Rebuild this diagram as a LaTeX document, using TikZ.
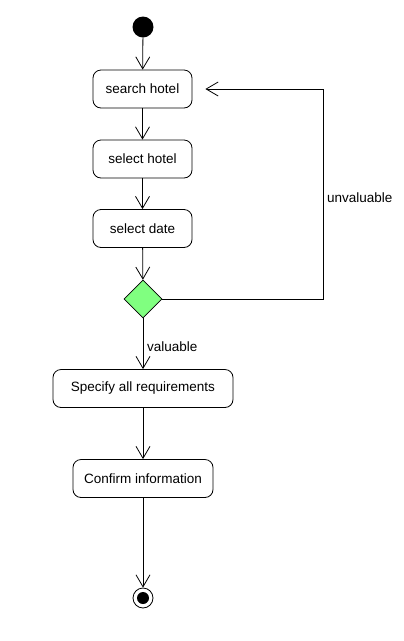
\documentclass[tikz,border=0pt]{standalone}
\usepackage{fontspec}
\setmainfont{Liberation Sans}
\usetikzlibrary{arrows.meta,shapes.geometric}
\begin{document}
\begin{tikzpicture}[x=1pt,y=-1pt,
  act/.style={draw,rounded corners=8pt,line width=0.8pt,minimum height=38pt,inner sep=0pt,font=\fontsize{13.5}{15}\selectfont},
  flow/.style={draw,line width=0.8pt,-{Straight Barb[length=12pt,width=14pt,line width=0.8pt]}},
  lbl/.style={font=\fontsize{13.5}{15}\selectfont,inner sep=0pt}]
\useasboundingbox (0,0) rectangle (404,641);
\node[circle,fill=black,minimum size=21pt,inner sep=0pt] (start) at (143,27) {};
\node[act,minimum width=99pt] (search) at (142.5,89) {search hotel};
\node[act,minimum width=99pt] (selh) at (142.5,159) {select hotel};
\node[act,minimum width=99pt] (seld) at (142.5,228.5) {select date};
\node[diamond,draw,fill=green!50!white,fill={rgb,255:red,128;green,255;blue,128},line width=0.8pt,minimum width=38pt,minimum height=38pt,inner sep=0pt] (dec) at (143,299) {};
\node[act,minimum width=180pt] (spec) at (143,388.5) {Specify all requirements};
\node[act,minimum width=140pt] (conf) at (143,478.5) {Confirm information};
\node[circle,draw,line width=0.8pt,minimum size=20pt,inner sep=0pt] (end) at (143,598) {};
\node[circle,fill=black,minimum size=12pt,inner sep=0pt] (endin) at (143,598) {};
\coordinate (c1) at (323,299);
\coordinate (c2) at (323,89);
\draw[flow] (start) -- (search);
\draw[flow] (search) -- (selh);
\draw[flow] (selh) -- (seld);
\draw[flow] (seld) -- (dec);
\draw[flow] (dec) -- (spec);
\draw[flow] (spec) -- (conf);
\draw[flow] (conf) -- (end);
\draw[flow,shorten >=13pt] (dec.east) -- (c1) -- (c2) -- (search.east);
\node[lbl,anchor=west] (unv) at (327,198) {unvaluable};
\node[lbl,anchor=west] (val) at (147,347) {valuable};
\end{tikzpicture}
\end{document}
